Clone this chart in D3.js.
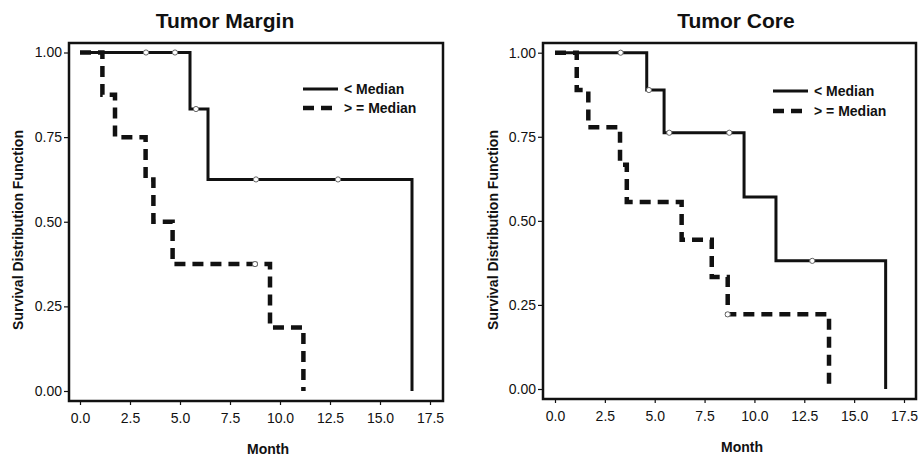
<!DOCTYPE html>
<meta charset="utf-8">
<style>
body{ margin:0; background:#fff; }
text{ font-family:"Liberation Sans", Arial, sans-serif; fill:#111; }
.tick text{ font-size:14px; }
.tick line{ stroke:#111; stroke-width:1.2px; }
.title{ font-size:21px; font-weight:bold; text-anchor:middle; }
.axlab{ font-size:14px; font-weight:bold; text-anchor:middle; }
.leg{ font-size:14px; font-weight:bold; }
.frame{ fill:none; stroke:#111; stroke-width:2.5px; }
.solid{ fill:none; stroke:#111; stroke-width:3px; }
.dash{ fill:none; stroke:#111; stroke-width:4.5px; stroke-dasharray:11,7; }
.cens{ fill:#fff; stroke:#666; stroke-width:1px; }
</style>
<body>
<script src="https://d3js.org/d3.v7.min.js"></script>
<script>

var titles = ["Tumor  Margin", "Tumor  Core"];
var seriesNames = ["< Median", "> = Median"];
var xTicks = [0, 2.5, 5, 7.5, 10, 12.5, 15, 17.5];
var yTicks = [0, 0.25, 0.5, 0.75, 1];

// Tumor Margin, < Median
var marginLowT = [0, 5.5, 6.4, 16.6];
var marginLowS = [1, 0.833, 0.625, 0];
var marginLowCensT = [3.3, 4.75, 5.8, 8.8, 12.9];
var marginLowCensS = [1, 1, 0.833, 0.625, 0.625];
// Tumor Margin, >= Median
var marginHighT = [0, 1.12, 1.75, 3.28, 3.67, 4.63, 9.5, 11.17];
var marginHighS = [1, 0.875, 0.75, 0.625, 0.5, 0.375, 0.1875, 0];
var marginHighCensT = [8.75];
var marginHighCensS = [0.375];

// Tumor Core, < Median
var coreLowT = [0, 4.6, 5.47, 9.48, 11.08, 16.58];
var coreLowS = [1, 0.889, 0.762, 0.571, 0.381, 0];
var coreLowCensT = [3.29, 4.71, 5.73, 8.74, 12.9];
var coreLowCensS = [1, 0.889, 0.762, 0.762, 0.381];
// Tumor Core, >= Median
var coreHighT = [0, 1.09, 1.67, 3.26, 3.6, 6.35, 7.86, 8.66, 13.74];
var coreHighS = [1, 0.889, 0.778, 0.667, 0.556, 0.444, 0.333, 0.222, 0];
var coreHighCensT = [8.66];
var coreHighCensS = [0.222];

var panels = [
  {title:titles[0], tx:225, fx0:69, fx1:443, fy0:43, fy1:401, x0:80, x1:430, y1:52.5, y0:391,
   ylx:23, mx:268, my:454, lx:303, ly:89, ld:19,
   low:[marginLowT, marginLowS, marginLowCensT, marginLowCensS],
   high:[marginHighT, marginHighS, marginHighCensT, marginHighCensS]},
  {title:titles[1], tx:736, fx0:543, fx1:916, fy0:43, fy1:399, x0:555, x1:904, y1:52.7, y0:389,
   ylx:498, mx:742, my:452, lx:773, ly:91, ld:20,
   low:[coreLowT, coreLowS, coreLowCensT, coreLowCensS],
   high:[coreHighT, coreHighS, coreHighCensT, coreHighCensS]}
];

var svg = d3.select("body").append("svg").attr("width", 921).attr("height", 459);

panels.forEach(function(p){
  var x = d3.scaleLinear().domain([0, 17.5]).range([p.x0, p.x1]);
  var y = d3.scaleLinear().domain([0, 1]).range([p.y0, p.y1]);
  var g = svg.append("g");

  g.append("text").attr("class","title").attr("x",p.tx).attr("y",28).text(p.title);

  g.append("g").attr("transform","translate(0,"+p.fy1+")")
    .call(d3.axisBottom(x).tickValues(xTicks).tickSize(4).tickPadding(8).tickFormat(d3.format(".1f")))
    .call(a=>a.select(".domain").remove());
  g.append("g").attr("transform","translate("+p.fx0+",0)")
    .call(d3.axisLeft(y).tickValues(yTicks).tickSize(5).tickPadding(2).tickFormat(d3.format(".2f")))
    .call(a=>a.select(".domain").remove());

  var line = d3.line().x(d=>x(d[0])).y(d=>y(d[1])).curve(d3.curveStepAfter);

  [["solid", p.low], ["dash", p.high]].forEach(function(s){
    var pts = d3.zip(s[1][0], s[1][1]);
    g.append("path").attr("class", s[0]).attr("d", line(pts));
  });
  [p.low, p.high].forEach(function(s){
    g.selectAll(null).data(d3.zip(s[2], s[3])).enter().append("circle")
      .attr("class","cens").attr("r",2.6)
      .attr("cx",d=>x(d[0])).attr("cy",d=>y(d[1]));
  });

  g.append("rect").attr("class","frame")
    .attr("x",p.fx0).attr("y",p.fy0).attr("width",p.fx1-p.fx0).attr("height",p.fy1-p.fy0);

  g.append("text").attr("class","axlab")
    .attr("transform","translate("+p.ylx+","+230+") rotate(-90)")
    .text("Survival  Distribution  Function");
  g.append("text").attr("class","axlab").attr("x",p.mx).attr("y",p.my).text("Month");

  // legend
  ["solid","dash"].forEach(function(c, i){
    var yy = p.ly + i*p.ld;
    g.append("line").attr("class",c).attr("x1",p.lx).attr("x2",p.lx+35).attr("y1",yy).attr("y2",yy);
    g.append("text").attr("class","leg").attr("x",p.lx+41).attr("y",yy+5).text(seriesNames[i]);
  });
});

</script>
</body>
</html>
